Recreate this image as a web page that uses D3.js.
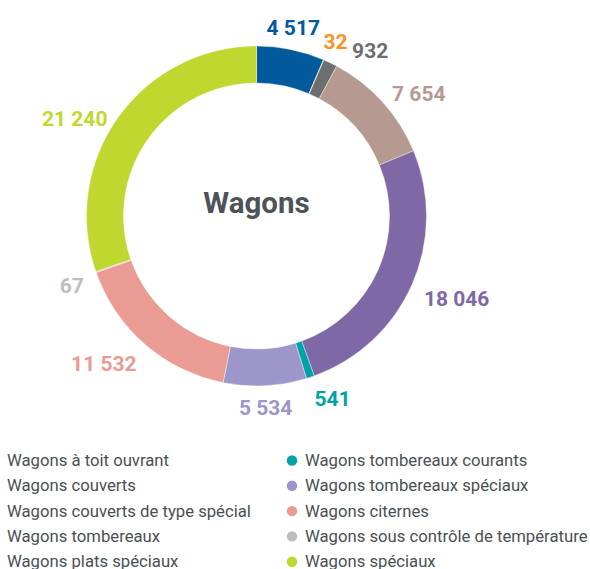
<!DOCTYPE html>
<html>
<head>
<meta charset="utf-8">
<script src="https://cdn.jsdelivr.net/npm/d3@7"></script>
<style>
  body { margin: 0; background: #fff; }
  svg { display: block; }
</style>
</head>
<body>
<svg id="chart"></svg>
<script>
// wagon categories, clockwise from 12 o'clock
const categories = [
  'Wagons à toit ouvrant',
  'Wagons couverts',
  'Wagons couverts de type spécial',
  'Wagons tombereaux',
  'Wagons plats spéciaux',
  'Wagons tombereaux courants',
  'Wagons tombereaux spéciaux',
  'Wagons citernes',
  'Wagons sous contrôle de température',
  'Wagons spéciaux'
];
const counts = [4517, 32, 932, 7654, 18046, 541, 5534, 11532, 67, 21240];
const colors = ['#005a9b', '#f7941d', '#6d6e70', '#b69a90', '#7f68a6',
                '#00a2a8', '#9c96ca', '#ea9b94', '#bdbdbd', '#c0d72f'];
const title = 'Wagons';

class DonutChart {

  constructor(_config) {
    this.config = {
      parentElement: _config.parentElement,
      containerWidth: 590,
      containerHeight: 569,
      cx: 256.5,
      cy: 216,
      outerRadius: 170,
      innerRadius: 133,
      labelRadius: 183
    }
    this.initVis();
  }

  initVis() {
    let vis = this;

    vis.svg = d3.select(vis.config.parentElement)
        .attr('width', vis.config.containerWidth)
        .attr('height', vis.config.containerHeight);

    vis.chart = vis.svg.append('g')
        .attr('transform', `translate(${vis.config.cx},${vis.config.cy})`);

    vis.pie = d3.pie().sort(null).value(d => d.value);
    vis.arc = d3.arc()
        .innerRadius(vis.config.innerRadius)
        .outerRadius(vis.config.outerRadius);

    // French style thousands: "21 240"
    vis.format = v => d3.format(',')(v).replace(/,/g, ' ');

    vis.updateVis();
  }

  updateVis() {
    let vis = this;
    vis.data = categories.map((c, i) => ({ name: c, value: counts[i], color: colors[i] }));
    vis.arcs = vis.pie(vis.data);
    vis.renderVis();
  }

  renderVis() {
    let vis = this;

    vis.chart.selectAll('.slice')
      .data(vis.arcs)
      .join('path')
        .attr('class', 'slice')
        .attr('d', vis.arc)
        .attr('fill', d => d.data.color)
        .attr('stroke', '#fff')
        .attr('stroke-width', 0.4);

    vis.chart.append('text')
        .attr('text-anchor', 'middle')
        .attr('y', -3)
        .attr('font-family', 'Roboto, sans-serif')
        .attr('font-weight', 700)
        .attr('font-size', 29.5)
        .attr('fill', '#4d5359')
        .text(title);

    // value labels: anchored on a circle just outside the ring,
    // aligned away from the ring, pushed clockwise when they collide
    const labels = vis.chart.selectAll('.val')
      .data(vis.arcs)
      .join('text')
        .attr('class', 'val')
        .attr('text-anchor', 'middle')
        .attr('font-family', 'Roboto, sans-serif')
        .attr('font-weight', 700)
        .attr('font-size', 21)
        .attr('fill', d => d.data.color)
        .text(d => vis.format(d.data.value));

    const R = vis.config.labelRadius, h = 15;
    let prev = null;
    labels.each(function(d) {
      const w = this.getComputedTextLength();
      let a = (d.startAngle + d.endAngle) / 2;
      const place = ang => {
        const s = Math.sin(ang), c = Math.cos(ang);
        const ax = R * s, ay = -R * c;
        const thr = c > 0 ? 0.5 : 0.15;
        const side = Math.abs(s) < thr ? 0 : Math.sign(s);
        const dy = c > 0.8 ? -9 : (c > 0.62 ? 0 : 9);
        const x = ax + side * w / 2, y = ay + dy;
        return { x, y, x0: x - w / 2, x1: x + w / 2, y0: y - h / 2, y1: y + h / 2 };
      };
      let p = place(a);
      const hit = (p, q) => q && p.x0 < q.x1 + 3 && p.x1 > q.x0 - 3 && p.y0 < q.y1 + 2 && p.y1 > q.y0 - 2;
      while (hit(p, prev)) { a += 0.01; p = place(a); }
      prev = p;
      d3.select(this).attr('x', p.x).attr('y', p.y + h / 2);
    });

    // legend in two columns (left column markers fall off the page)
    const legend = vis.svg.append('g');
    const rows = 5, rowH = 25.3, colW = 298;
    const item = legend.selectAll('.item')
      .data(vis.data)
      .join('g')
        .attr('class', 'item')
        .attr('transform', (d, i) => `translate(${-6 + Math.floor(i / rows) * colW},${466 + (i % rows) * rowH})`);
    item.append('circle')
        .attr('cy', -5.5)
        .attr('r', 5.2)
        .attr('fill', d => d.color);
    item.append('text')
        .attr('x', 13)
        .attr('font-family', 'Roboto, sans-serif')
        .attr('font-size', 16.7)
        .attr('fill', '#4a4f55')
        .text(d => d.name);
  }
}

new DonutChart({ parentElement: '#chart' });
</script>
</body>
</html>
